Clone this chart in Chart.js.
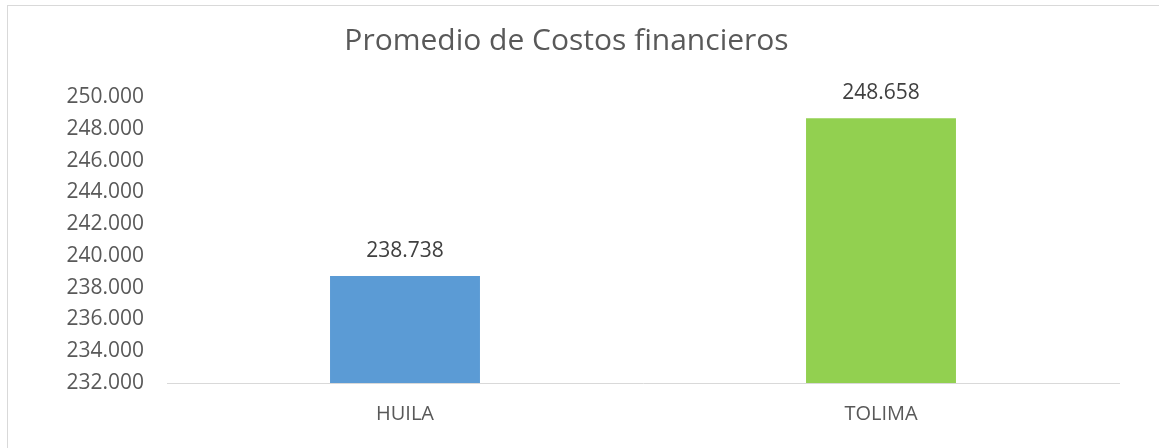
<!DOCTYPE html>
<html>
<head>
<meta charset="utf-8">
<script src="https://cdn.jsdelivr.net/npm/chart.js@4"></script>
<style>
  html, body { margin: 0; padding: 0; background: #fff; overflow: hidden; }
  #marco { position: absolute; left: 7px; top: 5px; width: 1170px; height: 460px; border: 1px solid #d9d9d9; }
  #wrap { position: absolute; left: 0; top: 0; width: 1159px; height: 448px; }
</style>
</head>
<body>
<div id="marco"></div>
<div id="wrap"><canvas id="costosChart"></canvas></div>
<script>
const categorias = ['HUILA', 'TOLIMA'];
const promedios = [238738, 248658];
const colores = ['#5B9BD5', '#92D050'];
const yMin = 232000;
const yMax = 250000;
const yPaso = 2000;

// formato con punto de miles: 250000 -> 250.000
function conPuntos(v) {
    return Math.round(v).toString().replace(/\B(?=(\d{3})+(?!\d))/g, '.');
}

// etiqueta de valor encima de cada barra
const etiquetas = {
    id: 'etiquetas',
    afterDatasetsDraw(chart) {
        const ctx = chart.ctx;
        ctx.save();
        ctx.font = '21px "Open Sans"';
        ctx.fillStyle = '#404040';
        ctx.textAlign = 'center';
        ctx.textBaseline = 'middle';
        chart.getDatasetMeta(0).data.forEach((bar, i) => {
            ctx.fillText(conPuntos(promedios[i]), bar.x, bar.y - 25);
        });
        ctx.restore();
    }
};

document.addEventListener('DOMContentLoaded', () => {
    const ctx = document.getElementById('costosChart').getContext('2d');
    new Chart(ctx, {
        type: 'bar',
        data: {
            labels: categorias,
            datasets: [{
                label: 'Promedio de Costos financieros',
                data: promedios,
                backgroundColor: colores,
                borderWidth: 0,
                categoryPercentage: 1,
                barPercentage: 0.315
            }]
        },
        options: {
            responsive: true,
            maintainAspectRatio: false,
            animation: false,
            layout: { padding: { left: 14, right: 40, top: 0, bottom: 3 } },
            plugins: {
                legend: { display: false },
                tooltip: { enabled: false },
                title: {
                    display: true,
                    text: 'Promedio de Costos financieros',
                    color: '#595959',
                    font: { family: 'Open Sans', size: 30, weight: 'normal', lineHeight: 1.2 },
                    padding: { top: 23, bottom: 38 }
                }
            },
            scales: {
                x: {
                    grid: { display: false, drawTicks: false },
                    border: { display: true, color: '#d9d9d9', width: 1 },
                    ticks: { color: '#595959', padding: 19, font: { family: 'Open Sans', size: 20 } }
                },
                y: {
                    min: yMin,
                    max: yMax,
                    grid: { display: false, drawTicks: false },
                    border: { display: false },
                    ticks: {
                        stepSize: yPaso,
                        color: '#595959',
                        padding: 23,
                        font: { family: 'Open Sans', size: 21 },
                        callback: v => conPuntos(v)
                    },
                    afterFit: scale => { scale.width = 153; }
                }
            }
        },
        plugins: [etiquetas]
    });
});
</script>
</body>
</html>
